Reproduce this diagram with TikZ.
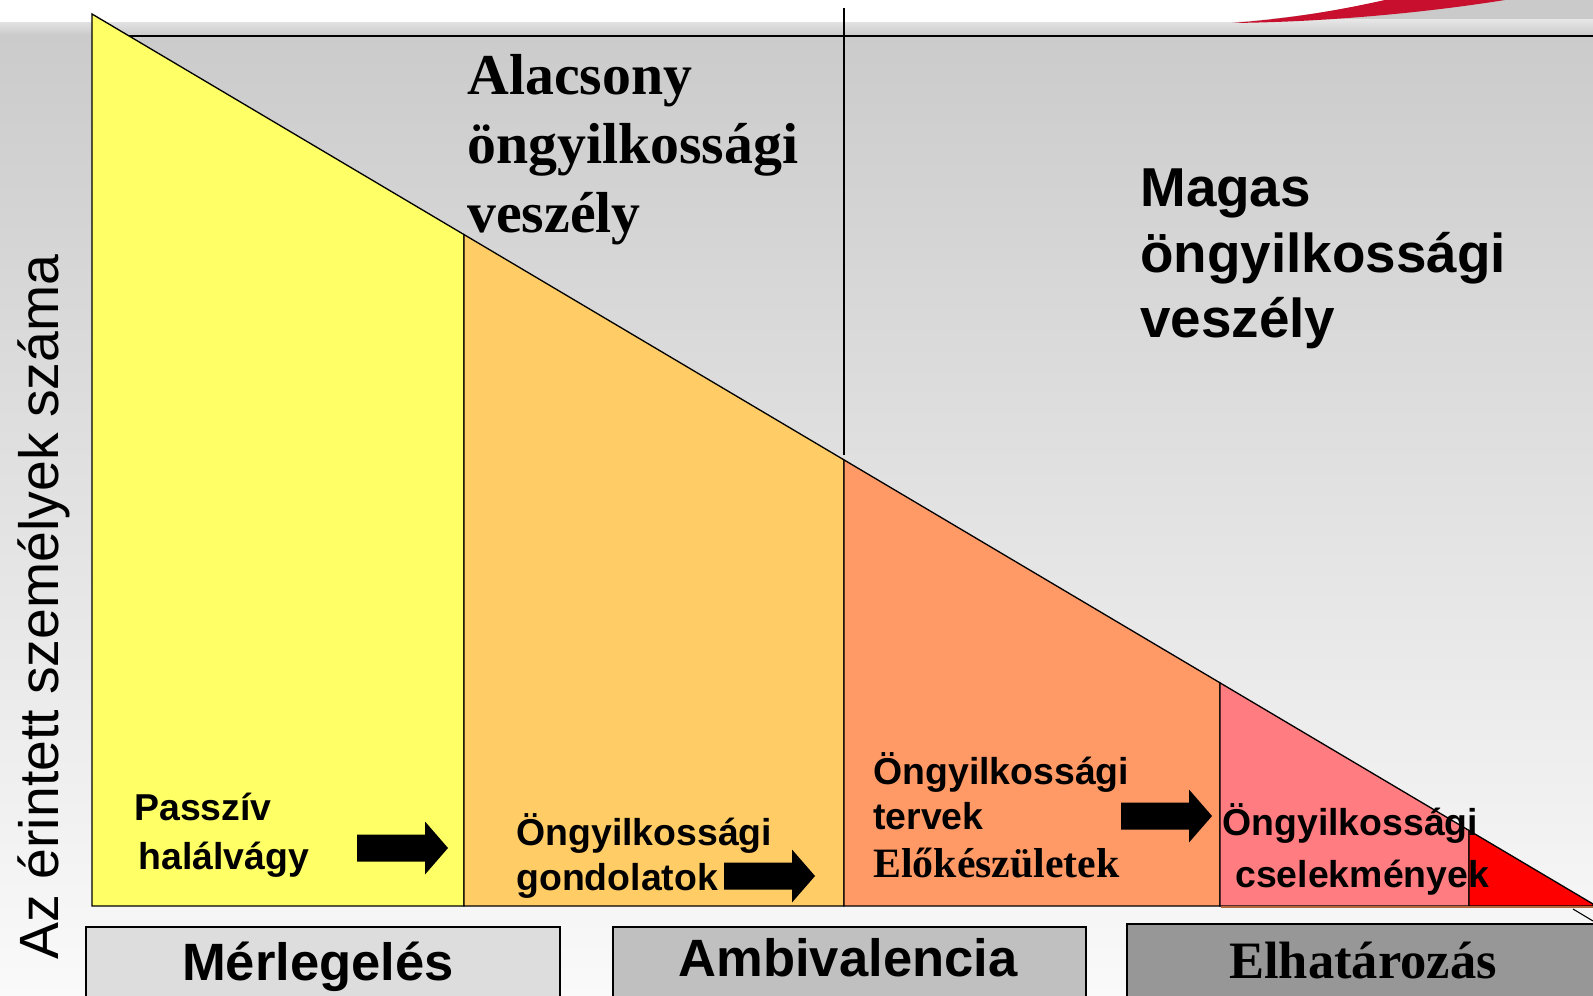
\documentclass[tikz,border=0pt]{standalone}
\usepackage{fontspec}
\setmainfont{Liberation Serif}
\setsansfont{Liberation Sans}
\definecolor{stageA}{HTML}{FFFF66}
\definecolor{stageB}{HTML}{FFCC66}
\definecolor{stageC}{HTML}{FF9966}
\definecolor{stageD}{HTML}{FF7C80}
\definecolor{stageE}{HTML}{FF0000}
\definecolor{phaseA}{HTML}{DDDDDD}
\definecolor{phaseB}{HTML}{C0C0C0}
\definecolor{phaseC}{HTML}{979797}
\definecolor{swoosh}{HTML}{C8102E}
\definecolor{edgebrown}{HTML}{B5673C}
\begin{document}
\begin{tikzpicture}[x=0.02cm,y=-0.02cm,
  stagetxt/.style={anchor=base west,inner sep=0pt,align=left},
  phasetxt/.style={anchor=base,inner sep=0pt,font=\bfseries\fontsize{29.9}{34}\selectfont}]
\useasboundingbox (0,0) rectangle (1593,996);
\shade[top color=black!21,bottom color=black!2] (0,0) rectangle (1593,996);
\shade[top color=black!10,middle color=black!42,bottom color=black!21] (0,20) rectangle (1593,36);
\fill[white] (0,0) -- (1385,0) .. controls (1340,10) and (1295,18) .. (1232,22) -- (0,22) -- cycle;
\fill[swoosh] (1232,23) .. controls (1330,22) and (1430,12) .. (1505,0) -- (1385,0) .. controls (1340,10) and (1295,18) .. (1232,23) -- cycle;
\draw[line width=1.1pt] (127,35.6) -- (1593,35.6);
\draw[line width=0.7pt] (844,8) -- (844,455);
\foreach \xa/\xb/\col in {92/464/stageA,464/844/stageB,844/1220/stageC,1220/1469/stageD,1469/1593/stageE}{
\pgfmathsetmacro{\ya}{14+(\xa-92)*0.59294}
\pgfmathsetmacro{\yb}{14+(\xb-92)*0.59294}
\filldraw[fill=\col,draw=black,line width=0.75pt] (\xa,906) -- (\xa,\ya) -- (\xb,\yb) -- (\xb,906) -- cycle;
}
\draw[edgebrown,line width=0.9pt] (1221,907) -- (1593,907);
\draw[line width=0.6pt] (1573,909) -- (1593,921);
\foreach \ax/\ay in {357/848,724/876,1121/816}{
\fill (\ax,{\ay-13.5}) -- ++(68,0) -- ++(0,-13) -- ++(23,26.5) -- ++(-23,26.5) -- ++(0,-13) -- ++(-68,0) -- cycle;
}
\node[stagetxt,font=\bfseries\fontsize{32.9}{39.4}\selectfont] (lowrisk) at (467,233) {Alacsony\\öngyilkossági\\veszély};
\node[stagetxt,font=\sffamily\bfseries\fontsize{31.2}{37.4}\selectfont] (highrisk) at (1140,338) {Magas\\öngyilkossági\\veszély};
\node[rotate=90,anchor=base,inner sep=0pt,font=\sffamily\fontsize{31.5}{36}\selectfont] (ylabel) at (58,607) {Az érintett személyek száma};
\node[stagetxt,font=\sffamily\bfseries\fontsize{21.3}{27.6}\selectfont] (passive) at (134,869) {Passzív\\\hspace*{2.3pt}halálvágy};
\node[stagetxt,font=\sffamily\bfseries\fontsize{21.3}{25.5}\selectfont] (thoughts) at (516,890) {Öngyilkossági\\gondolatok};
\node[stagetxt,font=\sffamily\bfseries\fontsize{21.3}{25.5}\selectfont] (plans) at (873,877) {Öngyilkossági\\tervek\\[1.5pt]{\rmfamily\fontsize{23.8}{25.5}\selectfont Előkészületek}};
\node[stagetxt,font=\sffamily\bfseries\fontsize{21.3}{29.5}\selectfont] (acts) at (1222,887) {Öngyilkossági\\\hspace*{7.4pt}cselekmények};
\filldraw[fill=phaseA,line width=0.8pt] (86,927) rectangle (560,1000);
\filldraw[fill=phaseB,line width=0.8pt] (613,927) rectangle (1086,1000);
\filldraw[fill=phaseC,line width=0.8pt] (1127,924) rectangle (1600,1000);
\node[phasetxt] (weigh) at (318,980) {\sffamily Mérlegelés};
\node[phasetxt] (ambi) at (848,976) {\sffamily Ambivalencia};
\node[phasetxt] (decide) at (1363,978) {Elhatározás};
\end{tikzpicture}
\end{document}
